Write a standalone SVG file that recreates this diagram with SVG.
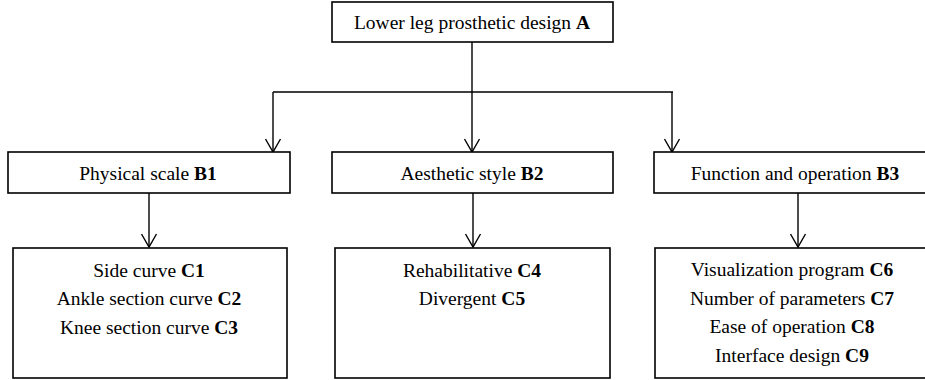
<svg xmlns="http://www.w3.org/2000/svg" width="925" height="380" viewBox="0 0 925 380">
<defs>
<marker id="arr" markerUnits="userSpaceOnUse" markerWidth="20" markerHeight="20" viewBox="-15 -10 20 20" refX="0" refY="0" orient="auto">
<path d="M -13 -7.5 L 0 0 L -13 7.5" fill="none" stroke="#000" stroke-width="1.4"/>
</marker>
<style>
.box{fill:#fff;stroke:#000;stroke-width:1.6}
.t{font-family:"Liberation Serif","Times New Roman",serif;font-size:19.5px;fill:#000;text-anchor:middle}
.b{font-weight:bold}
.ln{fill:none;stroke:#000;stroke-width:1.4}
</style>
</defs>
<rect width="925" height="380" fill="#fff"/>
<g id="connectors">
<path class="ln" d="M 472 42 V 92 M 273 92 H 673"/>
<path class="ln" d="M 273 92 V 152" marker-end="url(#arr)"/>
<path class="ln" d="M 472 92 V 152" marker-end="url(#arr)"/>
<path class="ln" d="M 672 92 V 152" marker-end="url(#arr)"/>
<path class="ln" d="M 149 193 V 247" marker-end="url(#arr)"/>
<path class="ln" d="M 473 193 V 247" marker-end="url(#arr)"/>
<path class="ln" d="M 798 193 V 247" marker-end="url(#arr)"/>
</g>
<g id="A">
<rect class="box" x="332" y="2" width="281" height="40"/>
<text class="t" x="472" y="29">Lower leg prosthetic design <tspan class="b">A</tspan></text>
</g>
<g id="B1">
<rect class="box" x="8" y="152" width="282" height="41"/>
<text class="t" x="148" y="179.5">Physical scale <tspan class="b">B1</tspan></text>
</g>
<g id="B2">
<rect class="box" x="332" y="152" width="281" height="41"/>
<text class="t" x="472" y="179.5">Aesthetic style <tspan class="b">B2</tspan></text>
</g>
<g id="B3">
<rect class="box" x="654" y="152" width="282" height="41"/>
<text class="t" x="795" y="179.5">Function and operation <tspan class="b">B3</tspan></text>
</g>
<g id="C1-3">
<rect class="box" x="13" y="248" width="274" height="130"/>
<text class="t" x="149" y="276.5">Side curve <tspan class="b">C1</tspan></text>
<text class="t" x="149" y="305">Ankle section curve <tspan class="b">C2</tspan></text>
<text class="t" x="149" y="333.5">Knee section curve <tspan class="b">C3</tspan></text>
</g>
<g id="C4-5">
<rect class="box" x="335" y="248" width="275" height="130"/>
<text class="t" x="472" y="276.5">Rehabilitative <tspan class="b">C4</tspan></text>
<text class="t" x="472" y="305">Divergent <tspan class="b">C5</tspan></text>
</g>
<g id="C6-9">
<rect class="box" x="655" y="248" width="281" height="130"/>
<text class="t" x="792" y="276">Visualization program <tspan class="b">C6</tspan></text>
<text class="t" x="792" y="304.5">Number of parameters <tspan class="b">C7</tspan></text>
<text class="t" x="792" y="333">Ease of operation <tspan class="b">C8</tspan></text>
<text class="t" x="792" y="361.5">Interface design <tspan class="b">C9</tspan></text>
</g>
</svg>
